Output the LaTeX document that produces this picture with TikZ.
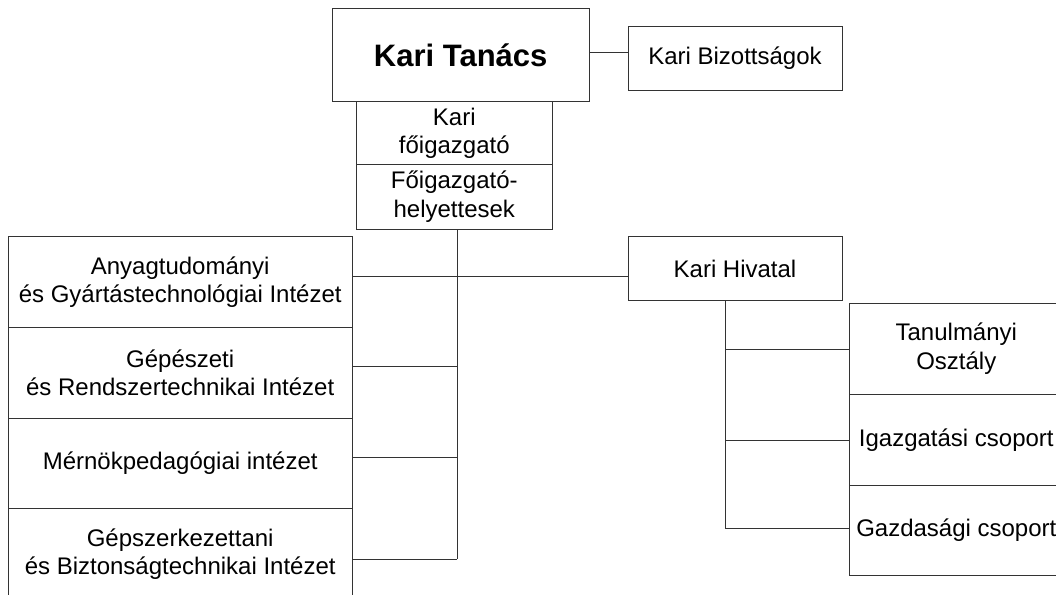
\documentclass[tikz,border=0pt]{standalone}
\usepackage{fontspec}
\setmainfont{Liberation Sans}
\begin{document}
\begin{tikzpicture}[x=1pt,y=-1pt,
  box/.style={draw=black!80, line width=0.9pt, inner sep=0pt, align=center,
    font=\fontsize{24}{28.5}\selectfont, text=black},
  conn/.style={draw=black!80, line width=0.9pt}]
\useasboundingbox (0,0) rectangle (1056,594);
\fill[white] (0,0) rectangle (1056,594);
\clip (0,0) rectangle (1056,594);
% top
\node[box, minimum width=256.7pt, minimum height=92.7pt,
  font=\fontsize{31}{35}\selectfont\bfseries] (kt) at (460.7,55.3) {Kari Tanács};
\node[box, minimum width=214pt, minimum height=64pt] (kb) at (735,58) {Kari Bizottságok};
\node[box, minimum width=196.7pt, minimum height=63pt] (kf) at (454.3,133.2) {Kari\\főigazgató};
\node[box, minimum width=196.7pt, minimum height=64.3pt] (kh) at (454.3,196.8) {Főigazgató-\\helyettesek};
\node[box, minimum width=214pt, minimum height=64.4pt] (hiv) at (735,268.5) {Kari Hivatal};
% left institutes
\node[box, minimum width=344.3pt, minimum height=90.6pt] (a1) at (180.2,282) {Anyagtudományi\\és Gyártástechnológiai Intézet};
\node[box, minimum width=344.3pt, minimum height=91pt] (a2) at (180.2,372.8) {Gépészeti\\és Rendszertechnikai Intézet};
\node[box, minimum width=344.3pt, minimum height=90.4pt] (a3) at (180.2,463.5) {Mérnökpedagógiai intézet};
\node[box, minimum width=344.3pt, minimum height=90.6pt] (a4) at (180.2,554) {Gépszerkezettani\\és Biztonságtechnikai Intézet};
% right offices
\node[box, minimum width=214pt, minimum height=91pt] (r1) at (956.3,348.8) {Tanulmányi\\Osztály};
\node[box, minimum width=214pt, minimum height=90.7pt] (r2) at (956.3,439.7) {Igazgatási csoport};
\node[box, minimum width=214pt, minimum height=90pt] (r3) at (956.3,530) {Gazdasági csoport};
% connectors
\draw[conn] ([yshift=2.6pt]kt.east) -- ([yshift=2.6pt]kt.east -| kb.west);
\coordinate (ltop) at ([xshift=2.7pt]kh.south);
\coordinate (lbot) at (ltop |- 0,559.3);
\draw[conn] (ltop) -- (lbot);
\draw[conn] (a1.east |- 0,276.7) -- (hiv.west |- 0,276.7);
\draw[conn] (a2.east |- 0,366.7) -- (ltop |- 0,366.7);
\draw[conn] (a3.east |- 0,457.7) -- (ltop |- 0,457.7);
\draw[conn] (a4.east |- lbot) -- (lbot);
\coordinate (rtop) at ([xshift=-10pt]hiv.south);
\coordinate (rbot) at (rtop |- 0,528.3);
\draw[conn] (rtop) -- (rbot);
\draw[conn] (rtop |- 0,349.3) -- (r1.west |- 0,349.3);
\draw[conn] (rtop |- 0,440) -- (r2.west |- 0,440);
\draw[conn] (rbot) -- (r3.west |- rbot);
\end{tikzpicture}
\end{document}
